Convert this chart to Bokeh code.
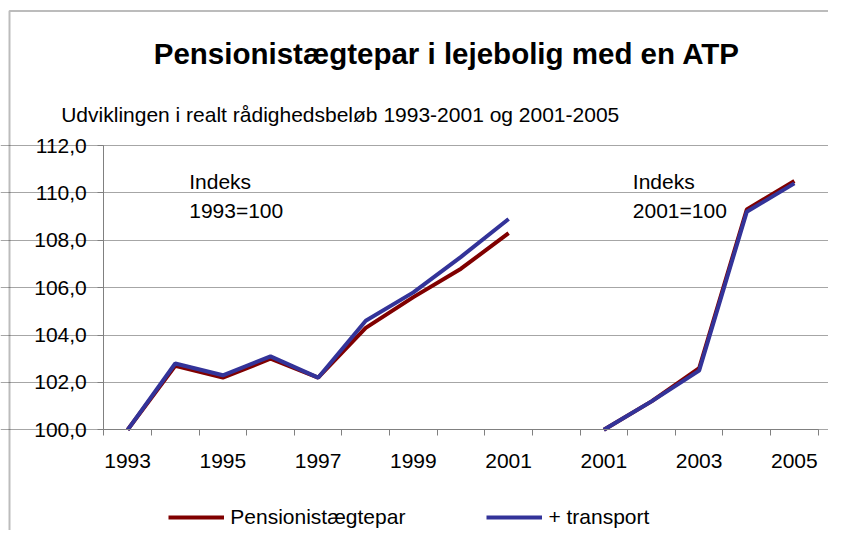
from bokeh.plotting import figure
from bokeh.models import (Range1d, FixedTicker, CustomJSTickFormatter, Label,
                          Legend, LegendItem, PolyAnnotation)
from bokeh.embed import file_html
from bokeh.resources import INLINE

# ---- data ----
categories = ["1993", "1994", "1995", "1996", "1997", "1998", "1999", "2000", "2001",
              "", "2001", "2002", "2003", "2004", "2005"]
tick_labels = ["1993", "1995", "1997", "1999", "2001", "2001", "2003", "2005"]

years_a = ["1993", "1994", "1995", "1996", "1997", "1998", "1999", "2000", "2001"]
pens_a = [100.0, 102.7, 102.2, 103.0, 102.2, 104.3, 105.6, 106.8, 108.3]
trans_a = [100.0, 102.8, 102.3, 103.1, 102.2, 104.6, 105.8, 107.3, 108.9]

years_b = ["2001", "2002", "2003", "2004", "2005"]
pens_b = [100.0, 101.2, 102.6, 109.3, 110.5]
trans_b = [100.0, 101.2, 102.5, 109.2, 110.4]

y_ticks = [100, 102, 104, 106, 108, 110, 112]

FONT = "Liberation Sans"
RED = "#800000"
BLUE = "#333399"

W, H = 828, 530
# plot-area placement in pixels (the whole canvas is the frame; axes sit inside it)
PX_L, PX_R, PX_T, PX_B = 103.3, 817.7, 145.0, 429.3
ncat = len(categories)
ymin, ymax = y_ticks[0], y_ticks[-1]
xs = (PX_R - PX_L) / ncat
ys = (PX_B - PX_T) / (ymax - ymin)
x_range = Range1d(-PX_L / xs, ncat + (W - PX_R) / xs)
y_range = Range1d(ymin - (H - PX_B) / ys, ymax + PX_T / ys)

xa = [categories.index(y) + 0.5 for y in years_a]
xb = [categories.index(y, 10) + 0.5 for y in years_b]

p = figure(width=W, height=H, output_backend="svg", toolbar_location=None,
           x_range=x_range, y_range=y_range, min_border=0)
p.title = None
p.outline_line_color = None
p.background_fill_color = "white"
p.border_fill_color = "white"

la = p.line(xa, pens_a, line_color=RED, line_width=4)
lb = p.line(xa, trans_a, line_color=BLUE, line_width=4)
p.line(xb, pens_b, line_color=RED, line_width=4)
p.line(xb, trans_b, line_color=BLUE, line_width=4)

# x axis
xmaj = [categories.index(t) + 0.5 if i < 5 else categories.index(t, 10) + 0.5
        for i, t in enumerate(tick_labels)]
xax = p.xaxis[0]
xax.fixed_location = ymin
xax.bounds = (0, ncat)
xax.ticker = FixedTicker(ticks=xmaj, minor_ticks=list(range(ncat + 1)))
xax.formatter = CustomJSTickFormatter(args=dict(labels=categories),
                                      code="return labels[Math.floor(tick)];")
xax.major_tick_line_color = None
xax.major_tick_out = 0
xax.major_tick_in = 0
xax.minor_tick_line_color = "#808080"
xax.minor_tick_in = 0
xax.minor_tick_out = 6
xax.axis_line_color = "#808080"
xax.major_label_standoff = 18
xax.major_label_text_font = FONT
xax.major_label_text_font_size = "21px"
xax.major_label_text_color = "black"

# y axis
yax = p.yaxis[0]
yax.fixed_location = 0
yax.bounds = (ymin, ymax)
yax.ticker = FixedTicker(ticks=y_ticks, minor_ticks=[])
yax.formatter = CustomJSTickFormatter(code="return tick.toFixed(1).replace('.', ',');")
yax.major_tick_line_color = "#808080"
yax.major_tick_in = 0
yax.major_tick_out = 6
yax.axis_line_color = "#808080"
yax.major_label_standoff = 11
yax.major_label_text_font = FONT
yax.major_label_text_font_size = "21px"
yax.major_label_text_color = "black"

p.xgrid.grid_line_color = None
p.ygrid.ticker = FixedTicker(ticks=y_ticks)
p.ygrid.bounds = (0, ncat)
p.ygrid.grid_line_color = "#a6a6a6"
p.ygrid.grid_line_width = 1

# texts, positioned in screen pixels (y measured from the canvas bottom)
def lab(text, x, y_from_top, size, bold=False, align="left"):
    p.add_layout(Label(x=x, y=H - y_from_top, x_units="screen", y_units="screen",
                       text=text, text_font=FONT, text_font_size=size,
                       text_font_style="bold" if bold else "normal",
                       text_align=align, text_baseline="middle",
                       text_color="black"))

lab("Pensionistægtepar i lejebolig med en ATP", 446.4, 53, "29.5px", bold=True, align="center")
lab("Udviklingen i realt rådighedsbeløb 1993-2001 og 2001-2005", 60.7, 113.5, "21px")
lab("Indeks", 188.7, 180.5, "21px")
lab("1993=100", 188.7, 209.5, "21px")
lab("Indeks", 632.3, 181.3, "21px")
lab("2001=100", 632.3, 209.7, "21px")

# outer frame of the chart: only its left and top edges fall inside the picture
TOP_Y = H - 10.5
p.add_layout(PolyAnnotation(xs=[9, 9, W + 400, W + 400], ys=[-400, TOP_Y, TOP_Y, -400],
                            xs_units="screen", ys_units="screen",
                            fill_color=None, fill_alpha=0,
                            line_color="#222222", line_width=2))

legend = Legend(items=[LegendItem(label="Pensionistægtepar", renderers=[la]),
                       LegendItem(label="+ transport", renderers=[lb])],
                orientation="horizontal", location=(168.3, H - 529),
                glyph_width=56, glyph_height=22, label_standoff=6, spacing=81,
                padding=0, margin=0, border_line_color=None,
                background_fill_alpha=0,
                label_text_font=FONT, label_text_font_size="21px",
                label_text_color="black")
p.add_layout(legend, "center")

open("out.html", "w").write(file_html(p, INLINE))
